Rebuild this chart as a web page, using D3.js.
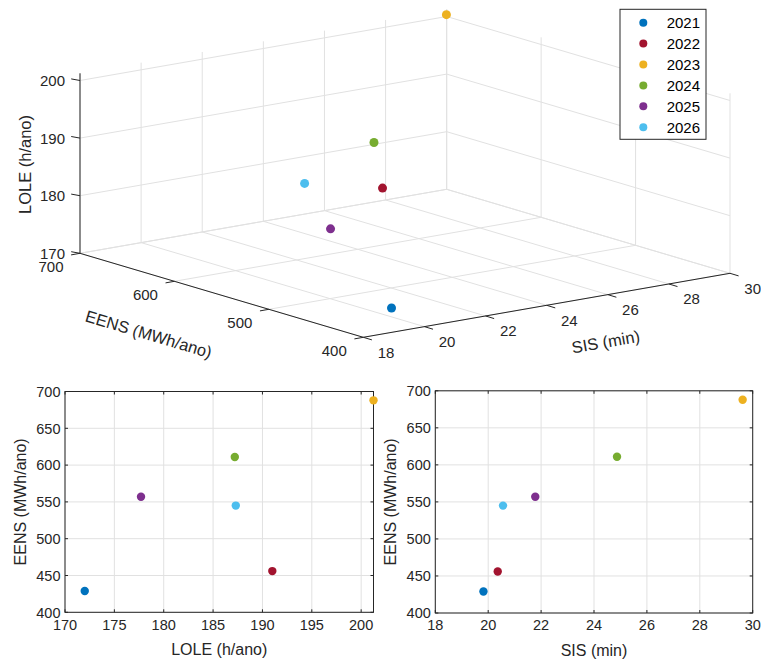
<!DOCTYPE html>
<html><head><meta charset="utf-8">
<script src="https://cdn.jsdelivr.net/npm/d3@7"></script>
<style>
body{margin:0;background:#fff}
text{font-family:"Liberation Sans",Arial,Helvetica,sans-serif;fill:#262626}
</style>
</head><body>
<svg id="c" width="761" height="659"></svg>
<script>
// ---- data ----
const years  = ["2021","2022","2023","2024","2025","2026"];
const sis    = [19.82, 20.36, 29.62, 24.87, 21.78, 20.56];   // SIS (min)
const eens   = [429, 456, 688, 611, 557, 545];               // EENS (MWh/ano)
const lole   = [172.0, 191.0, 201.25, 187.2, 177.7, 187.3];  // LOLE (h/ano)
const colors = ["#0072BD","#A2142F","#EDB120","#77AC30","#7E2F8E","#4DBEEE"];

const sisTicks    = [18,20,22,24,26,28,30];
const eensTicks3D = [400,500,600,700];
const loleTicks3D = [170,180,190,200];
const loleTicks2D = [170,175,180,185,190,195,200];
const eensTicks2D = [400,450,500,550,600,650,700];

const sisDomain  = [18,30];
const eensDomain = [400,700];
const loleDomain = [170,201.25];

const svg = d3.select("#c");
const AX = "#262626", GRID = "#e1e1e1";
const data = years.map((y,i)=>({year:y, sis:sis[i], eens:eens[i], lole:lole[i], color:colors[i]}));

// ---- 3D axes (orthographic projection) ----
const u = d3.scaleLinear().domain(sisDomain).range([0,1]);
const v = d3.scaleLinear().domain(eensDomain).range([0,1]);
const w = d3.scaleLinear().domain(loleDomain).range([0,1]);
const O = [363.3,337.3], EX = [366.7,-64], EY = [-283.3,-84], EZ = [0,-180];
function P(s,e,l){
  const a=u(s), b=v(e), c=w(l);
  return [O[0]+a*EX[0]+b*EY[0]+c*EZ[0], O[1]+a*EX[1]+b*EY[1]+c*EZ[1]];
}
const zTop = loleDomain[1], zBot = loleDomain[0];
const g3 = svg.append("g");
const grid3 = [];
sisTicks.forEach(s=>{ grid3.push([P(s,400,zBot),P(s,700,zBot)]); grid3.push([P(s,700,zBot),P(s,700,zTop)]); });
eensTicks3D.forEach(e=>{ grid3.push([P(18,e,zBot),P(30,e,zBot)]); grid3.push([P(30,e,zBot),P(30,e,zTop)]); });
loleTicks3D.forEach(l=>{ grid3.push([P(18,700,l),P(30,700,l)]); grid3.push([P(30,400,l),P(30,700,l)]); });
g3.selectAll("line.g").data(grid3).join("line")
  .attr("x1",d=>d[0][0]).attr("y1",d=>d[0][1]).attr("x2",d=>d[1][0]).attr("y2",d=>d[1][1])
  .attr("stroke",GRID).attr("stroke-width",1);
// axis lines
const axes3 = [[P(18,400,zBot),P(18,700,zBot)],[P(18,400,zBot),P(30,400,zBot)],[P(18,700,zBot),P(18,700,zTop)]];
g3.selectAll("line.a").data(axes3).join("line")
  .attr("x1",d=>d[0][0]).attr("y1",d=>d[0][1]).attr("x2",d=>d[1][0]).attr("y2",d=>d[1][1])
  .attr("stroke",AX).attr("stroke-width",1);
// ticks
const tks = [];
eensTicks3D.forEach(e=>{const p=P(18,e,zBot); tks.push([p,[p[0]-8.9,p[1]+1.6]]);});
sisTicks.forEach(s=>{const p=P(s,400,zBot); tks.push([p,[p[0]+8.6,p[1]+2.6]]);});
loleTicks3D.forEach(l=>{const p=P(18,700,l); tks.push([p,[p[0]-8.8,p[1]-1.6]]);});
g3.selectAll("line.t").data(tks).join("line")
  .attr("x1",d=>d[0][0]).attr("y1",d=>d[0][1]).attr("x2",d=>d[1][0]).attr("y2",d=>d[1][1])
  .attr("stroke",AX).attr("stroke-width",1);
// tick labels
const f3 = "15px";
loleTicks3D.forEach(l=>{const p=P(18,700,l);
  g3.append("text").attr("x",p[0]-15).attr("y",p[1]).attr("dy","0.36em").attr("text-anchor","end").style("font-size",f3).text(l);});
eensTicks3D.forEach(e=>{const p=P(18,e,zBot);
  g3.append("text").attr("x",p[0]-29).attr("y",p[1]+13.5).attr("dy","0.36em").attr("text-anchor","middle").style("font-size",f3).text(e);});
sisTicks.forEach(s=>{const p=P(s,400,zBot);
  g3.append("text").attr("x",p[0]+22.7).attr("y",p[1]+15).attr("dy","0.36em").attr("text-anchor","middle").style("font-size",f3).text(s);});
// axis labels
const f3l = "16.5px";
g3.append("text").attr("transform","translate(25,164.5) rotate(-90)").attr("text-anchor","middle").attr("dy","0.36em").style("font-size",f3l).text("LOLE (h/ano)");
g3.append("text").attr("transform","translate(148.7,334) rotate(16.5)").attr("text-anchor","middle").attr("dy","0.36em").style("font-size",f3l).text("EENS (MWh/ano)");
g3.append("text").attr("transform","translate(605.7,341.7) rotate(-9.9)").attr("text-anchor","middle").attr("dy","0.36em").style("font-size",f3l).text("SIS (min)");
// points
g3.selectAll("circle").data(data).join("circle")
  .attr("cx",d=>P(d.sis,d.eens,d.lole)[0]).attr("cy",d=>P(d.sis,d.eens,d.lole)[1])
  .attr("r",4.5).attr("fill",d=>d.color);

// legend
const lg = svg.append("g");
lg.append("rect").attr("x",620).attr("y",9.3).attr("width",86).attr("height",130)
  .attr("fill","#fff").attr("stroke",AX).attr("stroke-width",1);
data.forEach((d,i)=>{
  const y = 22.7 + i*20.9;
  lg.append("circle").attr("cx",643.3).attr("cy",y).attr("r",4).attr("fill",d.color);
  lg.append("text").attr("x",666.7).attr("y",y).attr("dy","0.36em").style("font-size","15px").style("fill","#000").text(d.year);
});

// ---- 2D plots ----
function plot2D(box, xDom, xTicks, xVals, xLabel){
  const g = svg.append("g");
  const x = d3.scaleLinear().domain(xDom).range([box.x0, box.x1]);
  const y = d3.scaleLinear().domain(eensDomain).range([box.y1, box.y0]);
  g.selectAll("line.gx").data(xTicks).join("line")
    .attr("x1",d=>x(d)).attr("x2",d=>x(d)).attr("y1",box.y0).attr("y2",box.y1).attr("stroke",GRID);
  g.selectAll("line.gy").data(eensTicks2D).join("line")
    .attr("y1",d=>y(d)).attr("y2",d=>y(d)).attr("x1",box.x0).attr("x2",box.x1).attr("stroke",GRID);
  const tl = 3;
  xTicks.forEach(t=>{
    g.append("line").attr("x1",x(t)).attr("x2",x(t)).attr("y1",box.y1).attr("y2",box.y1-tl).attr("stroke",AX);
    g.append("line").attr("x1",x(t)).attr("x2",x(t)).attr("y1",box.y0).attr("y2",box.y0+tl).attr("stroke",AX);
    g.append("text").attr("x",x(t)).attr("y",box.y1+12).attr("dy","0.36em").attr("text-anchor","middle").style("font-size","14.5px").text(t);
  });
  eensTicks2D.forEach(t=>{
    g.append("line").attr("y1",y(t)).attr("y2",y(t)).attr("x1",box.x0).attr("x2",box.x0+tl).attr("stroke",AX);
    g.append("line").attr("y1",y(t)).attr("y2",y(t)).attr("x1",box.x1).attr("x2",box.x1-tl).attr("stroke",AX);
    g.append("text").attr("x",box.x0-4.5).attr("y",y(t)).attr("dy","0.36em").attr("text-anchor","end").style("font-size","14.5px").text(t);
  });
  g.append("rect").attr("x",box.x0).attr("y",box.y0).attr("width",box.x1-box.x0).attr("height",box.y1-box.y0)
    .attr("fill","none").attr("stroke",AX).attr("stroke-width",1);
  g.append("text").attr("x",(box.x0+box.x1)/2).attr("y",box.y1+37).attr("dy","0.36em").attr("text-anchor","middle").style("font-size","16px").text(xLabel);
  g.append("text").attr("transform",`translate(${box.x0-45},${(box.y0+box.y1)/2}) rotate(-90)`).attr("dy","0.36em").attr("text-anchor","middle").style("font-size","16px").text("EENS (MWh/ano)");
  g.selectAll("circle").data(data).join("circle")
    .attr("cx",(d,i)=>x(xVals[i])).attr("cy",d=>y(d.eens)).attr("r",4.2).attr("fill",d=>d.color);
}
plot2D({x0:65, x1:373.5, y0:391.5, y1:612.3}, loleDomain, loleTicks2D, lole, "LOLE (h/ano)");
plot2D({x0:435.3, x1:752.7, y0:390.8, y1:613}, sisDomain, sisTicks, sis, "SIS (min)");
</script>
</body></html>
